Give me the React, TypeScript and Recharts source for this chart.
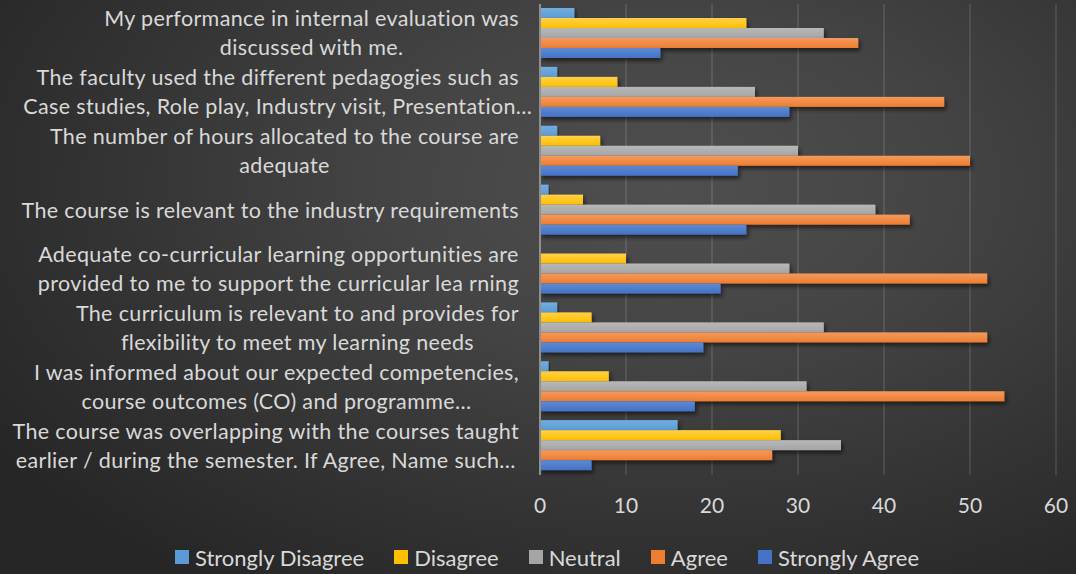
import React from 'react'
import { BarChart, Bar, XAxis, YAxis, CartesianGrid, Legend, ReferenceLine } from 'recharts'

// survey statements, top to bottom ("\n" = line break as in the original)
const categories = [
  'My performance in internal evaluation was\ndiscussed with me.',
  'The faculty used the different pedagogies such as\nCase studies, Role play, Industry visit, Presentation…',
  'The number of hours allocated to the course are\nadequate',
  'The course is relevant to the industry requirements',
  'Adequate co-curricular learning opportunities are\nprovided to me to support the curricular lea rning',
  'The curriculum is relevant to and provides for\nflexibility to meet my learning needs',
  'I was informed about our expected competencies,\ncourse outcomes (CO) and programme…',
  'The course was overlapping with the courses taught\nearlier / during the semester. If Agree, Name such…'
]

const stronglyDisagree = [4, 2, 2, 1, 0, 2, 1, 16]
const disagree = [24, 9, 7, 5, 10, 6, 8, 28]
const neutral = [33, 25, 30, 39, 29, 33, 31, 35]
const agree = [37, 47, 50, 43, 52, 52, 54, 27]
const stronglyAgree = [14, 29, 23, 24, 21, 19, 18, 6]

const xTicks = [0, 10, 20, 30, 40, 50, 60]

const series = [
  { key: 'sd', name: 'Strongly Disagree', color: '#5B9BD5', light: '#74ade0' },
  { key: 'd', name: 'Disagree', color: '#FFC000', light: '#ffd04a' },
  { key: 'n', name: 'Neutral', color: '#A5A5A5', light: '#b8b8b8' },
  { key: 'a', name: 'Agree', color: '#ED7D31', light: '#f49a5c' },
  { key: 'sa', name: 'Strongly Agree', color: '#4472C4', light: '#5f8ad3' }
]

const data = categories.map((name, i) => ({
  name,
  sd: stronglyDisagree[i],
  d: disagree[i],
  n: neutral[i],
  a: agree[i],
  sa: stronglyAgree[i]
}))

const FONT = 'Lato, "Open Sans", sans-serif'
const TEXT = '#d9d9d9'
const LABEL_SIZE = 21.5
const SPACING = 0.35
const LINE_H = 29
const LABEL_RIGHT = 519 // right edge of the label boxes (axis at 540)

// Excel style: lines centred in a wrapped box that sits against the axis;
// truncated lines (ending in …) don't widen the box and spill out of it
const CategoryTick = ({ y, payload }: any) => {
  const lines: string[] = String(payload.value).split('\n')
  const h = LINE_H * 3
  return (
    <foreignObject x={0} y={y - h / 2} width={LABEL_RIGHT} height={h} style={{ overflow: 'visible' }}>
      <div
        style={{
          width: LABEL_RIGHT,
          height: h,
          display: 'flex',
          justifyContent: 'flex-end',
          alignItems: 'center'
        }}
      >
        <div
          style={{
            flex: 'none',
            textAlign: 'center',
            fontFamily: FONT,
            fontSize: LABEL_SIZE,
            letterSpacing: SPACING,
            lineHeight: `${LINE_H}px`,
            color: TEXT
          }}
        >
          {lines.map((line, i) =>
            line.endsWith('…') ? (
              <div
                key={i}
                style={{ width: 0, margin: '0 auto', display: 'flex', justifyContent: 'center', whiteSpace: 'pre' }}
              >
                <span>{line}</span>
              </div>
            ) : (
              <div key={i} style={{ whiteSpace: 'pre' }}>
                {line}
              </div>
            )
          )}
        </div>
      </div>
    </foreignObject>
  )
}

const LegendContent = () => (
  <div
    style={{
      display: 'flex',
      justifyContent: 'center',
      alignItems: 'center',
      height: 30,
      paddingLeft: 48,
      fontFamily: FONT,
      fontSize: 22,
      color: TEXT
    }}
  >
    {series.map((s) => (
      <div key={s.key} style={{ display: 'flex', alignItems: 'center', marginRight: 30 }}>
        <span style={{ width: 14, height: 14, background: s.color, marginRight: 6, display: 'inline-block' }} />
        {s.name}
      </div>
    ))}
  </div>
)

const makeShape = (key: string) => (p: any) => {
  if (!p.width || p.width <= 0) return <g />
  return (
    <rect
      x={p.x}
      y={p.y}
      width={p.width}
      height={p.height}
      fill={`url(#grad-${key})`}
      filter="url(#barShadow)"
    />
  )
}

export default function App() {
  return (
    <div
      style={{
        position: 'absolute',
        left: 0,
        top: 0,
        width: 1076,
        height: 574,
        background: 'radial-gradient(ellipse 75% 85% at 62% 32%, #4f4f4f 0%, #444 35%, #333 70%, #262626 100%)'
      }}
    >
      <BarChart
        width={1076}
        height={574}
        data={data}
        layout="vertical"
        margin={{ top: 4, right: 20, bottom: 29, left: 0 }}
        barCategoryGap={4}
        barGap={0}
      >
        <defs>
          {series.map((s) => (
            <linearGradient key={s.key} id={`grad-${s.key}`} x1="0" y1="0" x2="0" y2="1">
              <stop offset="0%" stopColor={s.light} />
              <stop offset="100%" stopColor={s.color} />
            </linearGradient>
          ))}
          <filter id="barShadow" x="-5%" y="-40%" width="115%" height="200%">
            <feDropShadow dx="2" dy="3" stdDeviation="2" floodColor="#000" floodOpacity="0.55" />
          </filter>
        </defs>
        <CartesianGrid horizontal={false} stroke="rgba(255,255,255,0.1)" strokeWidth={2} />
        <XAxis
          type="number"
          domain={[0, 60]}
          ticks={xTicks}
          axisLine={false}
          tickLine={false}
          tickSize={0}
          tickMargin={23}
          height={40}
          tick={{ fill: TEXT, fontSize: 21, fontFamily: FONT }}
        />
        <YAxis
          type="category"
          dataKey="name"
          width={540}
          axisLine={false}
          tickLine={false}
          tickSize={0}
          tickMargin={21}
          interval={0}
          tick={<CategoryTick />}
        />
        <ReferenceLine x={0} stroke="#8f8f8f" strokeWidth={2} />
        {series.map((s) => (
          <Bar
            key={s.key}
            dataKey={s.key}
            name={s.name}
            fill={s.color}
            shape={makeShape(s.key)}
            isAnimationActive={false}
          />
        ))}
        <Legend
          verticalAlign="bottom"
          content={<LegendContent />}
          wrapperStyle={{ left: 0, width: 1076, bottom: 2 }}
        />
      </BarChart>
    </div>
  )
}
